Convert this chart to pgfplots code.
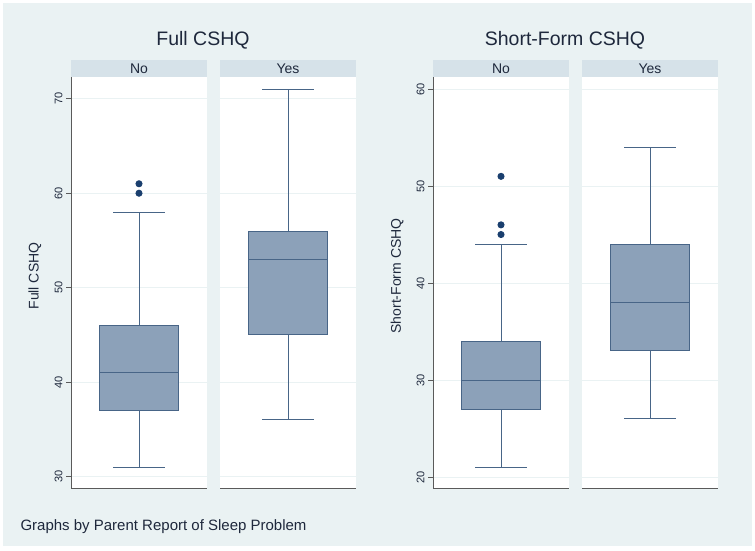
\documentclass[border=0pt]{standalone}
\usepackage{fontspec}
\setmainfont{Liberation Sans}
\usepackage{pgfplots}
\pgfplotsset{compat=1.18}
\usepgfplotslibrary{statistics}
\definecolor{bg}{RGB}{234,242,243}
\definecolor{strip}{RGB}{214,226,233}
\definecolor{boxfill}{RGB}{140,161,185}
\definecolor{boxline}{RGB}{72,101,135}
\definecolor{outl}{RGB}{26,63,110}
\definecolor{txt}{RGB}{30,40,60}
\definecolor{axline}{RGB}{90,90,90}
\pgfplotsset{
 panel/.style={scale only axis, width=136pt, height=411pt, xmin=-0.5, xmax=0.5,
   xtick=\empty, enlargelimits=false, axis x line*=bottom, axis y line*=left,
   ymajorgrids, grid style={color=bg, line width=0.8pt},
   axis line style={color=axline, line width=1pt},
   tick align=outside, major tick length=5pt,
   ytick style={color=axline, line width=0.8pt},
   yticklabel style={rotate=90, anchor=south, font=\fontsize{11}{13}\selectfont, text=txt},
   /pgf/number format/assume math mode=true,
   axis background/.style={fill=white},
   boxplot/draw direction=y, clip=false},
 noy/.style={y axis line style={draw=none}, ytick style={draw=none}, yticklabels={}},
 bx/.style={fill=boxfill, draw=boxline, line width=1pt, solid,
   boxplot/box extend=0.588, boxplot/whisker extend=0.382,
   mark=*, mark size=3pt, mark options={fill=outl, draw=outl}},
}
\begin{document}
\begin{tikzpicture}[x=1pt,y=1pt]
\useasboundingbox (0,0) rectangle (755,550);
\fill[white] (0,0) rectangle (755,550);
\fill[bg] (3,4) rectangle (752,547);
% strips
\fill[strip] (71,473) rectangle (207,490);
\fill[strip] (220,473) rectangle (356,490);
\fill[strip] (433,473) rectangle (569,490);
\fill[strip] (582,473) rectangle (718,490);
\begin{scope}[every node/.style={text=txt, font=\fontsize{14}{16}\selectfont}]
\node at (139,481.5) {No};
\node at (288,481.5) {Yes};
\node at (501,481.5) {No};
\node at (650,481.5) {Yes};
\end{scope}
\node[text=txt, font=\fontsize{19.5}{22}\selectfont] at (203,510) {Full CSHQ};
\node[text=txt, font=\fontsize{19.5}{22}\selectfont] at (565,510) {Short-Form CSHQ};
\node[rotate=90, text=txt, font=\fontsize{14}{16}\selectfont] at (35,274) {Full CSHQ};
\node[rotate=90, text=txt, font=\fontsize{14}{16}\selectfont] at (397,274) {Short-Form CSHQ};
\node[anchor=base west, text=txt, font=\fontsize{15}{17}\selectfont] at (17,20) {Graphs by Parent Report of Sleep Problem};

% Full CSHQ - No
\begin{axis}[panel, at={(71pt,62pt)}, anchor=south west, ymin=28.8, ymax=72.3, ytick={30,40,50,60,70}]
\addplot[bx, boxplot prepared={lower whisker=31, lower quartile=37, median=41, upper quartile=46, upper whisker=58, draw position=0}]
  table[row sep=\\, y index=0] {60\\ 61\\};
\end{axis}
% Full CSHQ - Yes
\begin{axis}[panel, noy, at={(220pt,62pt)}, anchor=south west, ymin=28.8, ymax=72.3, ytick={30,40,50,60,70}]
\addplot[bx, boxplot prepared={lower whisker=36, lower quartile=45, median=53, upper quartile=56, upper whisker=71, draw position=0}]
  coordinates {};
\end{axis}
% Short-Form - No
\begin{axis}[panel, at={(433pt,62pt)}, anchor=south west, ymin=18.87, ymax=61.24, ytick={20,30,40,50,60}]
\addplot[bx, boxplot prepared={lower whisker=21, lower quartile=27, median=30, upper quartile=34, upper whisker=44, draw position=0}]
  table[row sep=\\, y index=0] {45\\ 46\\ 51\\};
\end{axis}
% Short-Form - Yes
\begin{axis}[panel, noy, at={(582pt,62pt)}, anchor=south west, ymin=18.87, ymax=61.24, ytick={20,30,40,50,60}]
\addplot[bx, boxplot prepared={lower whisker=26, lower quartile=33, median=38, upper quartile=44, upper whisker=54, draw position=0}]
  coordinates {};
\end{axis}
\end{tikzpicture}
\end{document}
